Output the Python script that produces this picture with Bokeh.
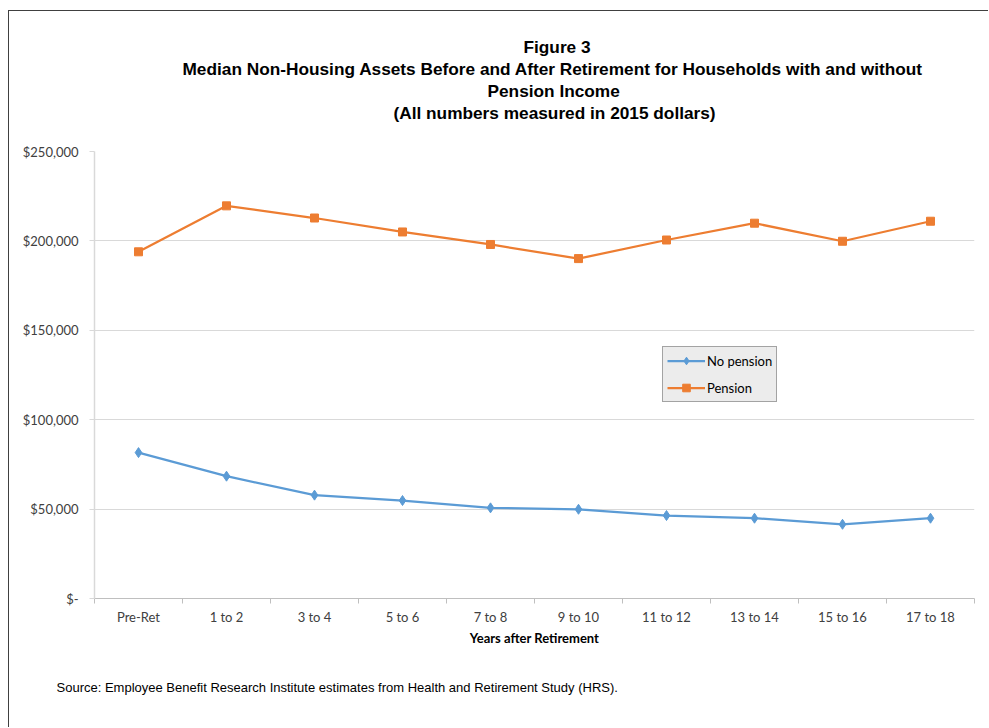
from bokeh.plotting import figure
from bokeh.models import (FactorRange, Range1d, LinearAxis, FixedTicker,
                          CustomJSTickFormatter, Title, Legend, LegendItem)
from bokeh.embed import file_html
from bokeh.resources import INLINE

categories = ["Pre-Ret", "1 to 2", "3 to 4", "5 to 6", "7 to 8", "9 to 10",
              "11 to 12", "13 to 14", "15 to 16", "17 to 18"]
no_pension = [81600, 68400, 57800, 54800, 50700, 49900, 46400, 44900, 41500, 44900]
pension = [193900, 219600, 212800, 205000, 198000, 190100, 200500, 209900, 199800, 211000]
y_ticks = [0, 50000, 100000, 150000, 200000, 250000]
title_lines = ["Figure 3",
               "Median Non-Housing Assets Before and After Retirement for Households with and without",
               "Pension Income",
               "(All numbers measured in 2015 dollars)"]
x_title = "Years after Retirement"
source_text = "Source: Employee Benefit Research Institute estimates from Health and Retirement Study (HRS)."

BLUE = "#5B9BD5"
ORANGE = "#ED7D31"
GRID = "#d9d9d9"
AXIS = "#bfbfbf"
TICK_FONT = "Lato"

p = figure(width=980, height=717, output_backend="svg", toolbar_location=None,
           x_range=FactorRange(factors=categories, range_padding=0),
           y_range=Range1d(0, 250000), x_axis_location=None,
           min_border_left=85, min_border_right=15, min_border_top=140,
           min_border_bottom=130)
p.styles = {"margin-left": "8px", "margin-top": "10px",
            "border-left": "1px solid #404040", "border-top": "1px solid #404040"}
p.outline_line_color = None
p.background_fill_color = "white"
p.border_fill_color = "white"
for g in p.grid:
    if g.dimension == 0:
        g.visible = False

# x axis: labels at category centres, Excel-style ticks on category boundaries
n = len(categories)
xaxis = LinearAxis(ticker=FixedTicker(ticks=[i + 0.5 for i in range(n)],
                                      minor_ticks=list(range(n + 1))),
                   formatter=CustomJSTickFormatter(args=dict(labels=categories),
                                                   code="return labels[Math.floor(tick)];"))
xaxis.axis_line_color = AXIS
xaxis.major_tick_line_color = None
xaxis.major_tick_out = 0
xaxis.major_tick_in = 0
xaxis.minor_tick_line_color = AXIS
xaxis.minor_tick_out = 5
xaxis.minor_tick_in = 0
xaxis.major_label_standoff = 5
xaxis.major_label_text_font = TICK_FONT
xaxis.major_label_text_font_size = "13px"
xaxis.major_label_text_color = "#404040"
xaxis.axis_label = x_title
xaxis.axis_label_text_font = TICK_FONT
xaxis.axis_label_text_font_style = "bold"
xaxis.axis_label_text_font_size = "13px"
xaxis.axis_label_text_color = "#000000"
xaxis.axis_label_standoff = 2
p.add_layout(xaxis, "below")

# y axis
yaxis = p.yaxis[0]
yaxis.ticker = FixedTicker(ticks=y_ticks)
yaxis.formatter = CustomJSTickFormatter(code="""
if (tick == 0) { return "$-"; }
return "$" + tick.toFixed(0).replace(/\\B(?=(\\d{3})+(?!\\d))/g, ",");
""")
yaxis.axis_line_color = GRID
yaxis.axis_line_width = 1.5
yaxis.major_tick_line_color = GRID
yaxis.major_tick_out = 5
yaxis.major_tick_in = 0
yaxis.minor_tick_line_color = None
yaxis.major_label_standoff = 11
yaxis.major_label_text_font = TICK_FONT
yaxis.major_label_text_font_size = "13px"
yaxis.major_label_text_color = "#404040"
p.ygrid.grid_line_color = GRID
p.ygrid.grid_line_width = 1
p.ygrid.ticker = FixedTicker(ticks=y_ticks)

# series
l1 = p.line(categories, no_pension, line_color=BLUE, line_width=2.25)
m1 = p.scatter(categories, no_pension, marker="diamond", size=10,
               fill_color=BLUE, line_color=BLUE)
l2 = p.line(categories, pension, line_color=ORANGE, line_width=2.25)
m2 = p.scatter(categories, pension, marker="square", size=8,
               fill_color=ORANGE, line_color=ORANGE)

legend = Legend(items=[LegendItem(label="No pension", renderers=[l1, m1]),
                       LegendItem(label="Pension", renderers=[l2, m2])],
                location=(568, 196))
legend.background_fill_color = "#ececec"
legend.background_fill_alpha = 1
legend.border_line_color = "#595959"
legend.border_line_width = 1
legend.label_text_font = TICK_FONT
legend.label_text_font_size = "13px"
legend.label_text_color = "#000000"
legend.glyph_width = 38
legend.glyph_height = 19
legend.label_height = 19
legend.label_standoff = 2
legend.spacing = 8
legend.padding = 4
legend.margin = 0
p.add_layout(legend, "center")

# title lines: bottom line first (nearest the frame); left offsets from frame edge
title_offsets = [429, 88, 393, 299]
first = True
for txt, off in reversed(list(zip(title_lines, title_offsets))):
    t = Title(text=txt, align="left", offset=off, standoff=0,
              text_font="Liberation Sans", text_font_style="bold",
              text_font_size="17.25px", text_color="#000000")
    if first:
        # gap between the plot area and the last title line
        try:
            t.padding = dict(left=0, right=0, top=0, bottom=29)
        except Exception:
            t.standoff = 20
        first = False
    p.add_layout(t, "above")

p.add_layout(Title(text=source_text, align="left", offset=-38, standoff=58,
                   text_font="Liberation Sans", text_font_style="normal",
                   text_font_size="13px", text_color="#000000"), "below")

open("out.html", "w").write(file_html(p, INLINE))
